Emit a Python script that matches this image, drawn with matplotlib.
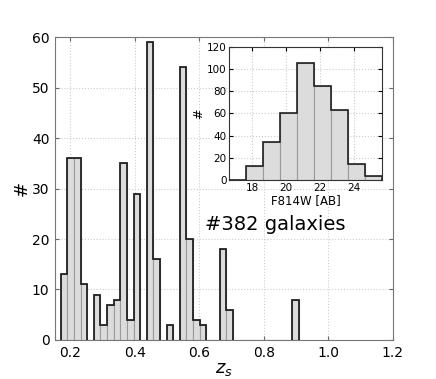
import numpy as np
import matplotlib
matplotlib.use("Agg")
import matplotlib.pyplot as plt

# redshift histogram
z_lo, z_hi, z_nbins = 0.171, 0.909, 36
z_counts = [13, 36, 36, 11, 0, 9, 3, 7, 8, 35, 4, 29, 0, 59, 16, 0, 3, 0,
            54, 20, 4, 3, 0, 0, 18, 6, 0, 0, 0, 0, 0, 0, 0, 0, 0, 8]

# F814W magnitude histogram (inset)
mag_lo, mag_hi, mag_nbins = 16.65, 25.65, 9
mag_counts = [0, 13, 34, 60, 105, 85, 63, 14, 4]

main_ticks = [0.2, 0.4, 0.6, 0.8, 1.0, 1.2]
inset_ticks = [18, 20, 22, 24]


def draw_hist(ax, counts, lo, hi, n, lw=1.3, skip_empty=False):
    edges = np.linspace(lo, hi, n + 1)
    counts = np.array(counts)
    ax.bar(edges[:-1], counts, width=np.diff(edges), align='edge',
           color='#dcdcdc', edgecolor='#9a9a9a', linewidth=0.8, zorder=2)
    if not skip_empty:
        ax.stairs(counts, edges, baseline=0, color='#222222', linewidth=lw, zorder=3)
        return
    # outline each run of non-empty bins separately
    i = 0
    while i < n:
        if counts[i] == 0:
            i += 1
            continue
        j = i
        while j < n and counts[j] > 0:
            j += 1
        ax.stairs(counts[i:j], edges[i:j + 1], baseline=0, color='#222222',
                  linewidth=lw, zorder=3)
        i = j


fig = plt.figure(figsize=(4.36, 3.79), dpi=100)
ax = fig.add_axes([0.126, 0.103, 0.775, 0.799])
draw_hist(ax, z_counts, z_lo, z_hi, z_nbins, skip_empty=True)
ax.set_xlim(0.153, 1.2)
ax.set_ylim(0, 60)
ax.set_xticks(main_ticks)
ax.set_yticks(range(0, 61, 10))
ax.grid(True, linestyle=':', color='#cccccc', linewidth=0.8, zorder=0)
ax.set_axisbelow(True)
ax.tick_params(direction='in', length=3, labelsize=10, top=True, right=True,
               color='#666666', pad=4)
for s in ax.spines.values():
    s.set_color('#777777')
ax.set_xlabel(r'$z_s$', fontsize=13, labelpad=0)
ax.set_ylabel('#', fontsize=13, labelpad=1)
ax.text(0.444, 0.38, '#382 galaxies', transform=ax.transAxes, fontsize=14,
        ha='left', va='center')

ins = fig.add_axes([0.526, 0.525, 0.35, 0.352])
draw_hist(ins, mag_counts, mag_lo, mag_hi, mag_nbins, lw=1.2)
ins.set_xlim(mag_lo, mag_hi)
ins.set_ylim(0, 120)
ins.set_xticks(inset_ticks)
ins.set_yticks(range(0, 121, 20))
ins.grid(True, linestyle=':', color='#cccccc', linewidth=0.8, zorder=0)
ins.set_axisbelow(True)
ins.tick_params(direction='in', length=3, labelsize=7.5, top=True, right=True, pad=2)
for s in ins.spines.values():
    s.set_color('#333333')
ins.set_xlabel('F814W [AB]', fontsize=8.5, labelpad=1)
ins.set_ylabel('#', fontsize=9, labelpad=1)

fig.savefig('out.png', dpi=100)
